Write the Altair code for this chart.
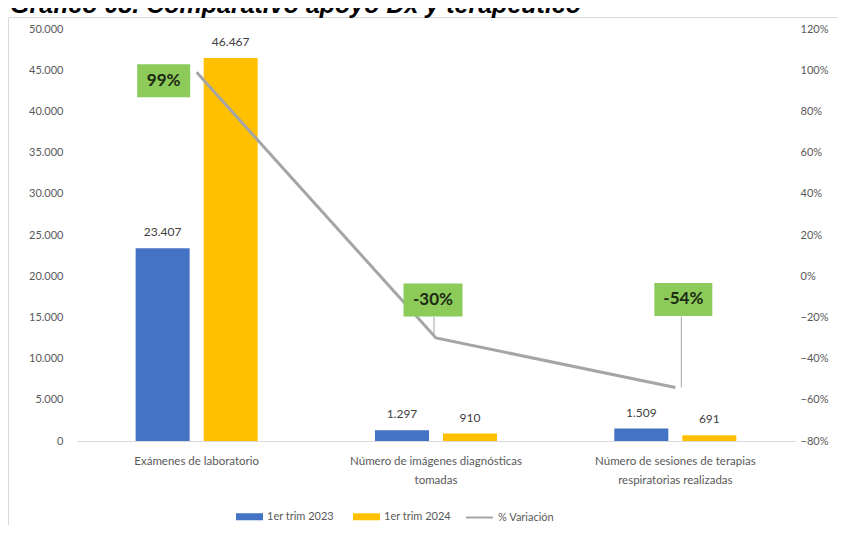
import altair as alt
import pandas as pd

# ---------------- data ----------------
categorias = [
    "Exámenes de laboratorio",
    "Número de imágenes diagnósticas\ntomadas",
    "Número de sesiones de terapias\nrespiratorias realizadas",
]
series = ["1er trim 2023", "1er trim 2024"]
serie_2023 = [23407, 1297, 1509]
serie_2024 = [46467, 910, 691]
linea = "% Variación"
variacion = [0.99, -0.30, -0.54]
variacion_txt = ["99%", "-30%", "-54%"]
ticks_izq = [0, 5000, 10000, 15000, 20000, 25000, 30000, 35000, 40000, 45000, 50000]
ticks_der = [-0.8, -0.6, -0.4, -0.2, 0.0, 0.2, 0.4, 0.6, 0.8, 1.0, 1.2]
titulo = "Gráfico 08. Comparativo apoyo Dx y terapéutico"

# ---------------- styling ----------------
W, H = 718, 412
PAD = {"left": 69, "top": 21, "right": 43, "bottom": 84}
BLUE, YELLOW, GREY = "#4472C4", "#FFC000", "#A5A5A5"
GREEN = "#8CCB5A"
LBL = "#595959"
FONT = "Lato"

bars_df = pd.DataFrame({
    "cat": categorias * 2,
    "serie": [series[0]] * 3 + [series[1]] * 3,
    "valor": serie_2023 + serie_2024,
})
line_df = pd.DataFrame({"cat": categorias, "pct": variacion, "txt": variacion_txt, "serie": linea})
title_df = pd.DataFrame({"t": [titulo]})

x_enc = alt.X(
    "cat:N", sort=categorias,
    scale=alt.Scale(paddingInner=0.49, paddingOuter=0.245),
    axis=alt.Axis(title=None, labelExpr="split(datum.label, '\\n')", labelAngle=0,
                  labelPadding=14, labelFontSize=11.5, labelColor=LBL, labelFont=FONT,
                  labelLineHeight=19, domainColor="#D9D9D9", ticks=False, grid=False),
)
y_left = alt.Y(
    "valor:Q", scale=alt.Scale(domain=[0, 50000], nice=False),
    axis=alt.Axis(title=None, values=ticks_izq, grid=False, domain=False, ticks=False,
                  labelExpr="replace(format(datum.value, ','), ',', '.')",
                  labelPadding=14, labelFontSize=11, labelColor=LBL, labelFont=FONT),
)
y_right = alt.Y(
    "pct:Q", scale=alt.Scale(domain=[-0.8, 1.2], nice=False),
    axis=alt.Axis(title=None, orient="right", values=ticks_der, format=".0%", grid=False,
                  domain=False, ticks=False, labelPadding=5, labelFontSize=11,
                  labelColor=LBL, labelFont=FONT),
)
x_off = alt.XOffset("serie:N", sort=series, scale=alt.Scale(paddingInner=0.206, paddingOuter=0))

rect_path = "M-1,-0.26L1,-0.26L1,0.26L-1,0.26Z"
legend_bars = alt.Legend(
    title=None, orient="none", legendX=159, legendY=474, direction="horizontal",
    columns=2, columnPadding=19, labelOffset=4, padding=0,
    symbolType=rect_path, symbolSize=729, symbolStrokeWidth=0, symbolOpacity=1,
    labelFontSize=11, labelColor=LBL, labelFont=FONT,
)
legend_line = alt.Legend(
    title=None, orient="none", legendX=388, legendY=474, direction="horizontal",
    labelOffset=4, padding=0, symbolType="stroke", symbolSize=729, symbolStrokeWidth=2,
    labelFontSize=11, labelColor=LBL, labelFont=FONT,
)

bars = alt.Chart(bars_df).mark_bar().encode(
    x=x_enc, xOffset=x_off, y=y_left,
    color=alt.Color("serie:N", scale=alt.Scale(domain=series, range=[BLUE, YELLOW]), legend=legend_bars),
)
bar_labels = alt.Chart(bars_df).transform_calculate(
    lbl="replace(format(datum.valor, ','), ',', '.')"
).mark_text(baseline="bottom", dy=-9, fontSize=12, color="#404040", font=FONT).encode(
    x=x_enc, xOffset=x_off, y=y_left, text="lbl:N",
)

# chart frame and (top-clipped) title, as in the reference image
frame = alt.Chart(title_df).mark_rect(filled=False, stroke="#D9D9D9", strokeWidth=1).encode(
    x=alt.value(-68.5), x2=alt.value(900), y=alt.value(-11.5), y2=alt.value(700)
)
title_mark = alt.Chart(title_df).mark_text(
    align="left", baseline="alphabetic", font="Liberation Sans", fontSize=25,
    fontWeight="bold", fontStyle="italic", color="#000000"
).encode(x=alt.value(-67), y=alt.value(-16), text="t:N")

line = alt.Chart(line_df).mark_line(strokeWidth=3).encode(
    x=x_enc, y=y_right,
    color=alt.Color("serie:N", scale=alt.Scale(domain=[linea], range=[GREY]), legend=legend_line),
)

# annotation boxes: (box dx, box dy, box width, leader offsets)
ann = [
    (-33, 8.5, 53, (-7, 6)),
    (-3, -38, 59, (-2, -21)),
    (8, -88, 58, (6, -71)),
]
ann_layers = []
for i, (dx, dy, bw, (lx, ly)) in enumerate(ann):
    base = alt.Chart(line_df).transform_filter(alt.datum.cat == categorias[i])
    h = 33.0
    k = h / bw
    path = f"M-1,-{k:.3f}L1,-{k:.3f}L1,{k:.3f}L-1,{k:.3f}Z"
    leader = base.mark_rule(color="#A6A6A6", strokeWidth=1, xOffset=lx, y2Offset=ly).encode(
        x=x_enc, y=y_right, y2="pct:Q"
    )
    box = base.mark_point(shape=path, size=bw * bw, filled=True, fill=GREEN, opacity=1,
                          strokeWidth=0, xOffset=dx, yOffset=dy).encode(x=x_enc, y=y_right)
    txt = base.mark_text(xOffset=dx, yOffset=dy, fontSize=17, fontWeight="bold", font=FONT,
                         color="#1d2a14", baseline="middle", align="center").encode(
        x=x_enc, y=y_right, text="txt:N")
    ann_layers += [leader, box, txt]

left = alt.layer(bars, bar_labels)
right = alt.layer(frame, title_mark, line, *ann_layers)

chart = alt.layer(left, right).resolve_scale(y="independent", color="independent").properties(
    width=W, height=H,
    autosize=alt.AutoSizeParams(type="none"),
    padding=PAD,
).configure_view(stroke=None)

chart.save("out.html", embed_options={"renderer": "svg", "actions": False})
